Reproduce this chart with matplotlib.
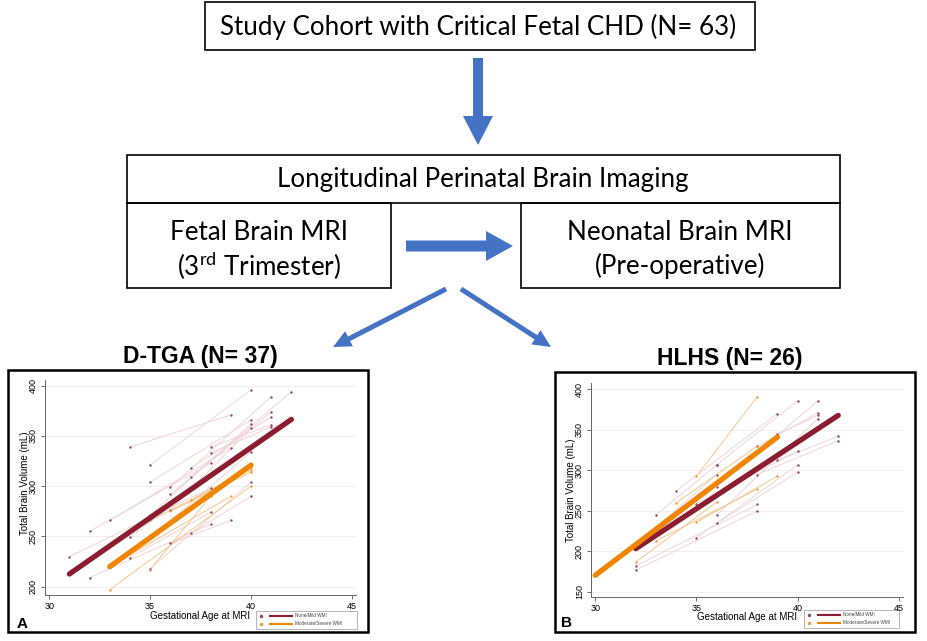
import numpy as np
import matplotlib.pyplot as plt
from matplotlib.patches import Rectangle, FancyArrow

plt.rcParams['font.family'] = ['Liberation Sans', 'DejaVu Sans']
plt.rcParams['mathtext.fontset'] = 'custom'
plt.rcParams['mathtext.rm'] = 'Lato'

W, H = 927, 641

# Flowchart text
top_label = "Study Cohort with Critical Fetal CHD (N= 63)"
header_label = "Longitudinal Perinatal Brain Imaging"
fetal_label = ["Fetal Brain MRI", "(3$^{\\mathrm{rd}}$ Trimester)"]
neonatal_label = ["Neonatal Brain MRI", "(Pre-operative)"]
panel_titles = ["D-TGA (N= 37)", "HLHS (N= 26)"]
legend_labels = ["None/Mild WMI", "Moderate/Severe WMI"]

# D-TGA: fetal scan -> neonatal scan, one pair per subject
dtga_none_ga0 = [31, 32, 32, 33, 34, 34, 34, 35, 35, 35, 35, 35, 36, 36, 36, 36, 37, 37, 37, 38, 38]
dtga_none_tbv0 = [230, 255, 209, 266, 339, 249, 229, 321, 304, 271, 249, 218, 299, 292, 276, 243, 318, 309, 253, 339, 333]
dtga_none_ga1 = [38, 38, 38, 39, 39, 39, 38, 40, 40, 40, 40, 40, 41, 41, 40, 39, 41, 42, 40, 41, 41]
dtga_none_tbv1 = [298, 323, 262, 338, 371, 326, 274, 396, 366, 362, 334, 304, 389, 374, 358, 266, 369, 394, 290, 361, 359]

dtga_mod_ga0 = [33, 33, 35, 36, 37, 35]
dtga_mod_tbv0 = [197, 220, 266, 275, 286, 217]
dtga_mod_ga1 = [40, 39, 40, 40, 40, 38]
dtga_mod_tbv1 = [300, 290, 316, 314, 318, 290]

# HLHS
hlhs_none_ga0 = [33, 36, 32, 32, 32, 34, 35, 35, 36, 36, 36, 38, 39, 39, 38]
hlhs_none_tbv0 = [245, 307, 208, 182, 177, 275, 259, 217, 280, 245, 235, 330, 345, 313, 295]
hlhs_none_ga1 = [36, 40, 36, 38, 38, 39, 40, 40, 41, 41, 40, 41, 41, 42, 42]
hlhs_none_tbv1 = [307, 386, 295, 258, 250, 370, 324, 307, 386, 364, 298, 371, 368, 342, 337]

hlhs_mod_ga0 = [35, 34, 33, 32, 35]
hlhs_mod_tbv0 = [293, 260, 213, 187, 236]
hlhs_mod_ga1 = [38, 38, 38, 36, 39]
hlhs_mod_tbv1 = [391, 330, 277, 261, 293]

# group mean trajectories
dtga_fit_none_ga = [31, 42]
dtga_fit_none_tbv = [212.6, 366.5]
dtga_fit_mod_ga = [33, 40]
dtga_fit_mod_tbv = [219.9, 321]
hlhs_fit_none_ga = [32, 42]
hlhs_fit_none_tbv = [203.5, 368]
hlhs_fit_mod_ga = [30, 39]
hlhs_fit_mod_tbv = [170.6, 341.2]

MAROON = '#8c1c30'
ORANGE = '#ef8500'
PINK = '#efd3d6'
LORANGE = '#f6c58c'
BLUE = '#4472c4'


def px_rect(x0, y0, x1, y1):
    return [x0 / W, 1 - y1 / H, (x1 - x0) / W, (y1 - y0) / H]


def draw_panel(ax, none_data, mod_data, fit_none, fit_mod, yticks, ylim):
    ga0, tbv0, ga1, tbv1 = none_data
    for i in range(len(ga0)):
        ax.plot([ga0[i], ga1[i]], [tbv0[i], tbv1[i]], color=PINK, lw=0.7, zorder=2)
    ga0m, tbv0m, ga1m, tbv1m = mod_data
    for i in range(len(ga0m)):
        ax.plot([ga0m[i], ga1m[i]], [tbv0m[i], tbv1m[i]], color=LORANGE, lw=0.7, zorder=2)
    ax.scatter(ga0 + ga1, tbv0 + tbv1, s=3, color='#8a4a60', zorder=3, linewidths=0)
    ax.scatter(ga0m + ga1m, tbv0m + tbv1m, s=3, color='#f09a40', zorder=3, linewidths=0)
    ax.plot(fit_none[0], fit_none[1], color=MAROON, lw=3.8, solid_capstyle='round', zorder=4)
    ax.plot(fit_mod[0], fit_mod[1], color=ORANGE, lw=3.8, solid_capstyle='round', zorder=5)

    ax.set_xlim(29.79, 45.2)
    ax.set_ylim(*ylim)
    ax.set_xticks([30, 35, 40, 45])
    ax.set_yticks(yticks)
    ax.set_yticklabels([str(t) for t in yticks], rotation=90, va='center')
    ax.tick_params(labelsize=6.5, length=3, width=0.6, color='#555555', pad=2)
    for t in yticks:
        ax.axhline(t, color='#ececec', lw=0.6, zorder=0)
    ax.spines['top'].set_visible(False)
    ax.spines['right'].set_visible(False)
    for side in ['left', 'bottom']:
        ax.spines[side].set_color('#666666')
        ax.spines[side].set_linewidth(0.7)
    ax.set_facecolor('none')


fig = plt.figure(figsize=(9.27, 6.41), dpi=100)

# overlay for flowchart, frames, labels
ov = fig.add_axes([0, 0, 1, 1])
ov.set_xlim(0, W)
ov.set_ylim(H, 0)
ov.axis('off')

ff = 'Lato'
fs = 18.7
ov.add_patch(Rectangle((205, 2), 550, 48, fill=False, lw=1.2, ec='black'))
ov.text(478, 27, top_label, ha='center', va='center', fontsize=fs, family=ff)

ov.add_patch(FancyArrow(478, 58, 0, 87, width=10, head_width=30, head_length=29,
                        length_includes_head=True, color=BLUE, lw=0))

ov.add_patch(Rectangle((127, 155), 713, 48, fill=False, lw=1.2, ec='black'))
ov.text(483, 180, header_label, ha='center', va='center', fontsize=fs, family=ff)
ov.add_patch(Rectangle((127, 203), 264, 85, fill=False, lw=1.2, ec='black'))
ov.add_patch(Rectangle((521, 203), 319, 85, fill=False, lw=1.2, ec='black'))
ov.text(259, 232, fetal_label[0], ha='center', va='center', fontsize=fs, family=ff)
ov.text(259, 266, fetal_label[1], ha='center', va='center', fontsize=fs, family=ff)
ov.text(680, 232, neonatal_label[0], ha='center', va='center', fontsize=fs, family=ff)
ov.text(680, 266, neonatal_label[1], ha='center', va='center', fontsize=fs, family=ff)

ov.add_patch(FancyArrow(406, 246, 107, 0, width=11, head_width=30, head_length=27,
                        length_includes_head=True, color=BLUE, lw=0))
ov.add_patch(FancyArrow(446, 289, -113, 58, width=5, head_width=17, head_length=18,
                        length_includes_head=True, color=BLUE, lw=0))
ov.add_patch(FancyArrow(461, 289, 90, 58, width=5, head_width=17, head_length=18,
                        length_includes_head=True, color=BLUE, lw=0))

ov.text(200, 357, panel_titles[0], ha='center', va='center', fontsize=16.5,
        fontweight='bold')
ov.text(730, 358, panel_titles[1], ha='center', va='center', fontsize=16.5,
        fontweight='bold')

# panel frames
ov.add_patch(Rectangle((8, 370), 360, 262, fill=False, lw=1.8, ec='black'))
ov.add_patch(Rectangle((555, 372), 360, 260, fill=False, lw=1.8, ec='black'))

# panel A
axA = fig.add_axes(px_rect(45, 380, 356, 595))
draw_panel(axA, (dtga_none_ga0, dtga_none_tbv0, dtga_none_ga1, dtga_none_tbv1),
           (dtga_mod_ga0, dtga_mod_tbv0, dtga_mod_ga1, dtga_mod_tbv1),
           (dtga_fit_none_ga, dtga_fit_none_tbv), (dtga_fit_mod_ga, dtga_fit_mod_tbv),
           [200, 250, 300, 350, 400], (191.7, 405.7))

# panel B
axB = fig.add_axes(px_rect(591, 383, 903, 597))
draw_panel(axB, (hlhs_none_ga0, hlhs_none_tbv0, hlhs_none_ga1, hlhs_none_tbv1),
           (hlhs_mod_ga0, hlhs_mod_tbv0, hlhs_mod_ga1, hlhs_mod_tbv1),
           (hlhs_fit_none_ga, hlhs_fit_none_tbv), (hlhs_fit_mod_ga, hlhs_fit_mod_tbv),
           [150, 200, 250, 300, 350, 400], (143.8, 408))

for x, y in [(25, 483), (571, 490)]:
    ov.text(x, y, "Total Brain Volume (mL)", rotation=90, ha='center', va='center', fontsize=7)
for x, y in [(200, 616), (747, 617)]:
    ov.text(x, y, "Gestational Age at MRI", ha='center', va='center', fontsize=7)
ov.text(22, 624, "A", ha='center', va='center', fontsize=11, fontweight='bold')
ov.text(567, 623, "B", ha='center', va='center', fontsize=11, fontweight='bold')

# legends
for (x0, x1, y0, y1) in [(256, 357, 611, 629), (804, 899, 610, 628)]:
    ov.add_patch(Rectangle((x0, y0), x1 - x0, y1 - y0, fill=False, lw=0.5, ec='#999999'))
    rows = [y0 + 4.5, y0 + 12.5]
    cols = [(MAROON, '#8a4a60'), (ORANGE, '#f09a40')]
    for r, (lc, dc), lab in zip(rows, cols, legend_labels):
        ov.plot([x0 + 5], [r], 'o', ms=1.5, color=dc)
        ov.plot([x0 + 14, x0 + 36], [r, r], color=lc, lw=1.5)
        ov.text(x0 + 39, r, lab, ha='left', va='center', fontsize=3.3, color='#444444')

fig.savefig('out.png', dpi=100)
